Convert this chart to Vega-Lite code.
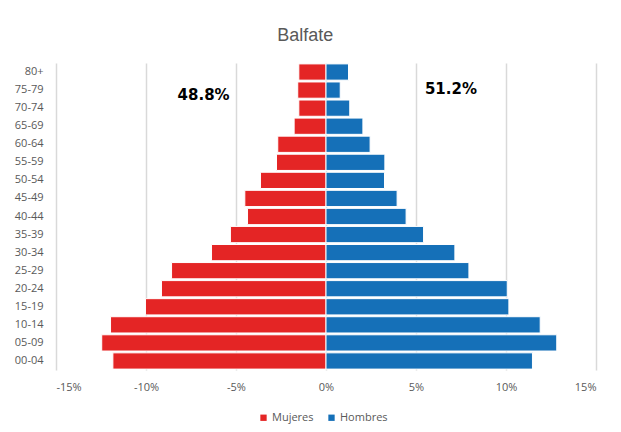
{
  "$schema": "https://vega.github.io/schema/vega-lite/v6.json",
  "width": 540,
  "height": 307,
  "autosize": "none",
  "padding": {"left": 56, "top": 63, "right": 25, "bottom": 62},
  "background": "white",
  "title": {
    "text": "Balfate",
    "font": "Liberation Sans",
    "fontSize": 18,
    "fontWeight": "normal",
    "color": "#595959",
    "anchor": "middle",
    "frame": "bounds",
    "baseline": "alphabetic",
    "offset": 4
  },
  "config": {
    "view": {"stroke": null},
    "axis": {"labelFont": "Open Sans", "labelFontSize": 11, "labelColor": "#595959"}
  },
  "datasets": {
    "pyr": [
      {"edad": "80+", "sexo": "Mujeres", "valor": -1.51},
      {"edad": "75-79", "sexo": "Mujeres", "valor": -1.57},
      {"edad": "70-74", "sexo": "Mujeres", "valor": -1.51},
      {"edad": "65-69", "sexo": "Mujeres", "valor": -1.77},
      {"edad": "60-64", "sexo": "Mujeres", "valor": -2.68},
      {"edad": "55-59", "sexo": "Mujeres", "valor": -2.75},
      {"edad": "50-54", "sexo": "Mujeres", "valor": -3.64},
      {"edad": "45-49", "sexo": "Mujeres", "valor": -4.51},
      {"edad": "40-44", "sexo": "Mujeres", "valor": -4.36},
      {"edad": "35-39", "sexo": "Mujeres", "valor": -5.31},
      {"edad": "30-34", "sexo": "Mujeres", "valor": -6.36},
      {"edad": "25-29", "sexo": "Mujeres", "valor": -8.58},
      {"edad": "20-24", "sexo": "Mujeres", "valor": -9.14},
      {"edad": "15-19", "sexo": "Mujeres", "valor": -10.03},
      {"edad": "10-14", "sexo": "Mujeres", "valor": -11.97},
      {"edad": "05-09", "sexo": "Mujeres", "valor": -12.46},
      {"edad": "00-04", "sexo": "Mujeres", "valor": -11.84},
      {"edad": "80+", "sexo": "Hombres", "valor": 1.25},
      {"edad": "75-79", "sexo": "Hombres", "valor": 0.79},
      {"edad": "70-74", "sexo": "Hombres", "valor": 1.32},
      {"edad": "65-69", "sexo": "Hombres", "valor": 2.05},
      {"edad": "60-64", "sexo": "Hombres", "valor": 2.45},
      {"edad": "55-59", "sexo": "Hombres", "valor": 3.27},
      {"edad": "50-54", "sexo": "Hombres", "valor": 3.25},
      {"edad": "45-49", "sexo": "Hombres", "valor": 3.95},
      {"edad": "40-44", "sexo": "Hombres", "valor": 4.45},
      {"edad": "35-39", "sexo": "Hombres", "valor": 5.42},
      {"edad": "30-34", "sexo": "Hombres", "valor": 7.16},
      {"edad": "25-29", "sexo": "Hombres", "valor": 7.94},
      {"edad": "20-24", "sexo": "Hombres", "valor": 10.07},
      {"edad": "15-19", "sexo": "Hombres", "valor": 10.16},
      {"edad": "10-14", "sexo": "Hombres", "valor": 11.9},
      {"edad": "05-09", "sexo": "Hombres", "valor": 12.82},
      {"edad": "00-04", "sexo": "Hombres", "valor": 11.47}
    ],
    "notes": [
      {"edad": "75-79", "x": -6.8, "label": "48.8%", "lado": "izq"},
      {"edad": "75-79", "x": 6.94, "label": "51.2%", "lado": "der"}
    ]
  },
  "layer": [
    {
      "data": {"name": "pyr"},
      "mark": {"type": "bar", "stroke": "#ffffff", "strokeWidth": 1},
      "encoding": {
        "y": {
          "field": "edad",
          "type": "nominal",
          "sort": ["80+", "75-79", "70-74", "65-69", "60-64", "55-59", "50-54", "45-49", "40-44", "35-39", "30-34", "25-29", "20-24", "15-19", "10-14", "05-09", "00-04"],
          "scale": {"paddingInner": 0.1, "paddingOuter": 0.05},
          "axis": {"title": null, "domain": false, "ticks": false, "grid": false, "labelPadding": 13}
        },
        "x": {
          "field": "valor",
          "type": "quantitative",
          "scale": {"domain": [-15, 15], "nice": false},
          "axis": {
            "title": null,
            "values": [-15, -10, -5, 0, 5, 10, 15],
            "labelExpr": "datum.value + '%'",
            "domain": false,
            "ticks": false,
            "grid": true,
            "gridColor": "#d9d9d9",
            "gridWidth": 1.5,
            "labelPadding": 11
          }
        },
        "color": {
          "field": "sexo",
          "type": "nominal",
          "scale": {"domain": ["Mujeres", "Hombres"], "range": ["#E42525", "#1570B8"]},
          "legend": {
            "title": null,
            "orient": "none",
            "legendX": 202,
            "legendY": 349,
            "direction": "horizontal",
            "symbolType": "square",
            "symbolSize": 40,
            "symbolStrokeWidth": 0,
            "labelFont": "Open Sans",
            "labelFontSize": 11,
            "labelColor": "#595959",
            "labelOffset": 3,
            "columnPadding": 12
          }
        }
      }
    },
    {
      "data": {"name": "notes"},
      "transform": [{"filter": "datum.lado == 'izq'"}],
      "mark": {"type": "text", "font": "DejaVu Sans", "fontWeight": "bold", "fontSize": 15, "color": "#000000", "baseline": "middle", "dy": 5},
      "encoding": {
        "x": {"field": "x", "type": "quantitative"},
        "y": {"field": "edad", "type": "nominal", "sort": ["80+", "75-79", "70-74", "65-69", "60-64", "55-59", "50-54", "45-49", "40-44", "35-39", "30-34", "25-29", "20-24", "15-19", "10-14", "05-09", "00-04"]},
        "text": {"field": "label"}
      }
    },
    {
      "data": {"name": "notes"},
      "transform": [{"filter": "datum.lado == 'der'"}],
      "mark": {"type": "text", "font": "DejaVu Sans", "fontWeight": "bold", "fontSize": 15, "color": "#000000", "baseline": "middle", "dy": -1},
      "encoding": {
        "x": {"field": "x", "type": "quantitative"},
        "y": {"field": "edad", "type": "nominal", "sort": ["80+", "75-79", "70-74", "65-69", "60-64", "55-59", "50-54", "45-49", "40-44", "35-39", "30-34", "25-29", "20-24", "15-19", "10-14", "05-09", "00-04"]},
        "text": {"field": "label"}
      }
    }
  ]
}
